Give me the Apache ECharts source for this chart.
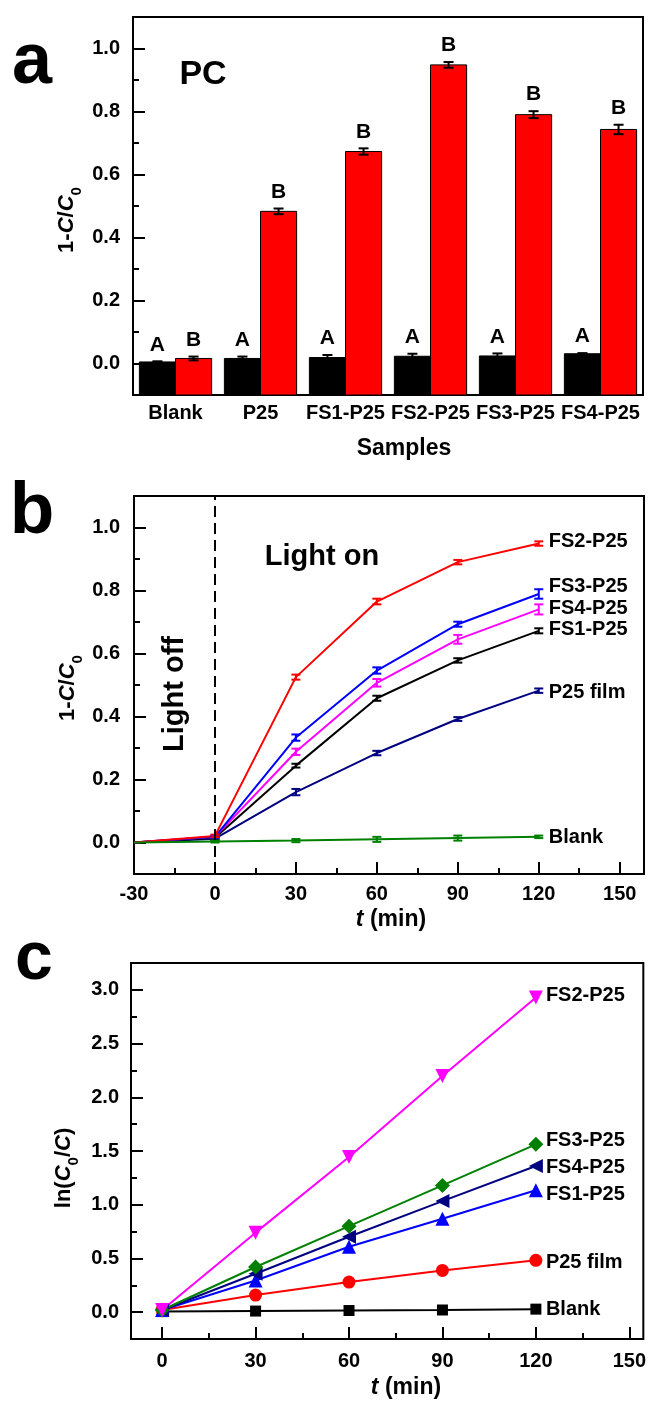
<!DOCTYPE html>
<html><head><meta charset="utf-8">
<script src="https://cdn.jsdelivr.net/npm/echarts@6/dist/echarts.min.js"></script>
<style>html,body{margin:0;padding:0;background:#fff}#c{width:649px;height:1405px}</style>
</head><body><div id="c"></div><script>
const FONT = '"Liberation Sans", Arial, Helvetica, sans-serif';

// ---------- Panel a data ----------
const samples = ['Blank', 'P25', 'FS1-P25', 'FS2-P25', 'FS3-P25', 'FS4-P25'];
const darkVals = [0.005, 0.016, 0.019, 0.023, 0.024, 0.031];
const darkErr = [0.002, 0.006, 0.008, 0.008, 0.008, 0.002];
const lightVals = [0.016, 0.483, 0.673, 0.948, 0.790, 0.743];
const lightErr = [0.006, 0.009, 0.010, 0.009, 0.011, 0.015];
const darkLetters = ['A', 'A', 'A', 'A', 'A', 'A'];
const lightLetters = ['B', 'B', 'B', 'B', 'B', 'B'];
const aYTicks = [0, 0.2, 0.4, 0.6, 0.8, 1.0];
const aYMinor = [0.1, 0.3, 0.5, 0.7, 0.9];

// ---------- Panel b data ----------
const tB = [-30, 0, 30, 60, 90, 120];
const bFS2 = [0, 0.021, 0.525, 0.765, 0.890, 0.949];
const bFS2err = [0, 0.004, 0.008, 0.009, 0.007, 0.007];
const bFS3 = [0, 0.018, 0.333, 0.546, 0.693, 0.789];
const bFS3err = [0, 0.004, 0.010, 0.010, 0.008, 0.015];
const bFS4 = [0, 0.018, 0.288, 0.507, 0.645, 0.740];
const bFS4err = [0, 0.004, 0.010, 0.012, 0.014, 0.016];
const bFS1 = [0, 0.015, 0.244, 0.458, 0.578, 0.672];
const bFS1err = [0, 0.004, 0.006, 0.008, 0.007, 0.008];
const bP25 = [0, 0.012, 0.160, 0.284, 0.392, 0.482];
const bP25err = [0, 0.004, 0.010, 0.007, 0.006, 0.007];
const bBlank = [0, 0.003, 0.006, 0.010, 0.014, 0.018];
const bBlankErr = [0, 0.003, 0.005, 0.008, 0.008, 0.004];
const bXTicks = [-30, 0, 30, 60, 90, 120, 150];
const bXMinor = [-15, 15, 45, 75, 105, 135];
const bYTicks = [0, 0.2, 0.4, 0.6, 0.8, 1.0];
const bYMinor = [0.1, 0.3, 0.5, 0.7, 0.9];

// ---------- Panel c data ----------
const tC = [0, 30, 60, 90, 120];
const cFS2 = [0.02, 0.740, 1.444, 2.199, 2.929];
const cFS3 = [0.02, 0.420, 0.800, 1.180, 1.562];
const cFS4 = [0.02, 0.357, 0.702, 1.034, 1.360];
const cFS1 = [0.02, 0.295, 0.609, 0.870, 1.134];
const cP25 = [0.02, 0.159, 0.280, 0.388, 0.482];
const cBlank = [0.005, 0.010, 0.015, 0.020, 0.028];
const cXTicks = [0, 30, 60, 90, 120, 150];
const cXMinor = [15, 45, 75, 105, 135];
const cYTicks = [0, 0.5, 1.0, 1.5, 2.0, 2.5, 3.0];
const cYMinor = [0.25, 0.75, 1.25, 1.75, 2.25, 2.75];

// ---------- helpers ----------
const A_YMIN = -0.1;
const labelBase = {color: '#000', fontFamily: FONT, fontWeight: 'bold', fontSize: 20};
function tickStyle(len, values) {
  return {show: true, inside: true, length: len, customValues: values, lineStyle: {color: '#000', width: 2}};
}
function valueAxes(grid, min, max, majors, minors, margin, pos, fmt) {
  const main = {type: 'value', gridIndex: grid, min: min, max: max, position: pos,
    axisLine: {show: false, onZero: false}, splitLine: {show: false},
    axisTick: tickStyle(12, majors),
    axisLabel: Object.assign({}, labelBase, {margin: margin, customValues: majors, formatter: fmt})};
  const minor = {type: 'value', gridIndex: grid, min: min, max: max, position: pos,
    axisLine: {show: false, onZero: false}, splitLine: {show: false},
    axisTick: tickStyle(6, minors),
    axisLabel: {show: false, customValues: minors}};
  return [main, minor];
}
const f1 = v => v.toFixed(1);
const f0 = v => String(Math.round(v));

function errorRender(color, capHalf, offsetFrac) {
  return function (params, api) {
    const x = api.value(0), y = api.value(1), e = api.value(2);
    if (!e) return null;
    const dx = offsetFrac ? api.size([1, 0])[0] * offsetFrac : 0;
    const hi = api.coord([x, y + e]), lo = api.coord([x, y - e]);
    const cx = hi[0] + dx;
    const st = {stroke: color, lineWidth: 2};
    return {type: 'group', children: [
      {type: 'line', shape: {x1: cx, y1: hi[1], x2: cx, y2: lo[1]}, style: st},
      {type: 'line', shape: {x1: cx - capHalf, y1: hi[1], x2: cx + capHalf, y2: hi[1]}, style: st},
      {type: 'line', shape: {x1: cx - capHalf, y1: lo[1], x2: cx + capHalf, y2: lo[1]}, style: st}
    ]};
  };
}
// bars drawn from the bottom of the axis (as in the original), via axis scale
function barRender(fill, offsetFrac, letters) {
  return function (params, api) {
    const i = api.value(0), v = api.value(1), e = api.value(2);
    const band = api.size([1, 0])[0];
    const w = band * 0.425;
    const top = api.coord([i, v]);
    const bot = api.coord([i, A_YMIN]);
    const cx = top[0] + band * offsetFrac;
    const lblY = api.coord([i, v + e])[1] - 6;
    return {type: 'group', children: [
      {type: 'rect', shape: {x: cx - w / 2, y: top[1], width: w, height: bot[1] - top[1]},
       style: {fill: fill, stroke: '#000', lineWidth: 1}},
      {type: 'text', x: cx, y: lblY, style: {text: letters[params.dataIndex], fill: '#000',
        fontFamily: FONT, fontWeight: 'bold', fontSize: 21, align: 'center', verticalAlign: 'bottom',
        textAlign: 'center', textVerticalAlign: 'bottom'}}
    ]};
  };
}
function zip3(xs, ys, es) { return xs.map((x, i) => [x, ys[i], es ? es[i] : 0]); }

// ---------- axes ----------
const aY = valueAxes(0, A_YMIN, 1.1, aYTicks, aYMinor, 13, 'left', f1);
const bX = valueAxes(1, -30, 159, bXTicks, bXMinor, 10, 'bottom', f0);
const bY = valueAxes(1, -0.1, 1.1, bYTicks, bYMinor, 14, 'left', f1);
const cX = valueAxes(2, -10, 154.5, cXTicks, cXMinor, 12, 'bottom', f0);
const cY = valueAxes(2, -0.25, 3.25, cYTicks, cYMinor, 12, 'left', f1);

const xAxes = [
  {type: 'category', gridIndex: 0, data: samples, axisLine: {show: false, onZero: false}, axisTick: {show: false},
   axisLabel: Object.assign({}, labelBase, {margin: 8, interval: 0})},
  bX[0], bX[1], cX[0], cX[1]
];
const yAxes = [aY[0], aY[1], bY[0], bY[1], cY[0], cY[1]];

// ---------- series ----------
const series = [];
series.push({type: 'custom', name: 'dark', xAxisIndex: 0, yAxisIndex: 0, z: 2,
  renderItem: barRender('#000000', -0.2125, darkLetters), encode: {x: 0, y: 1},
  data: samples.map((s, i) => [i, darkVals[i], darkErr[i]])});
series.push({type: 'custom', name: 'light', xAxisIndex: 0, yAxisIndex: 0, z: 2,
  renderItem: barRender('#ff0000', 0.2125, lightLetters), encode: {x: 0, y: 1},
  data: samples.map((s, i) => [i, lightVals[i], lightErr[i]])});
series.push({type: 'custom', xAxisIndex: 0, yAxisIndex: 0, z: 5,
  renderItem: errorRender('#000', 5, -0.2125), encode: {x: 0, y: 1},
  data: samples.map((s, i) => [i, darkVals[i], darkErr[i]])});
series.push({type: 'custom', xAxisIndex: 0, yAxisIndex: 0, z: 5,
  renderItem: errorRender('#000', 5, 0.2125), encode: {x: 0, y: 1},
  data: samples.map((s, i) => [i, lightVals[i], lightErr[i]])});

const endLabel = (dy) => ({show: true, formatter: '{a}', distance: 10, offset: [0, dy],
  color: '#000', fontFamily: FONT, fontWeight: 'bold', fontSize: 20});

const bDefs = [
  {name: 'P25 film', y: bP25, e: bP25err, color: '#000080', dy: 2},
  {name: 'FS1-P25', y: bFS1, e: bFS1err, color: '#000000', dy: -1},
  {name: 'FS4-P25', y: bFS4, e: bFS4err, color: '#ff00ff', dy: -1},
  {name: 'FS3-P25', y: bFS3, e: bFS3err, color: '#0000ff', dy: -7},
  {name: 'FS2-P25', y: bFS2, e: bFS2err, color: '#ff0000', dy: -2},
  {name: 'Blank', y: bBlank, e: bBlankErr, color: '#008000', dy: 1}
];
bDefs.forEach((d, k) => {
  const s = {type: 'line', name: d.name, xAxisIndex: 1, yAxisIndex: 2,
    data: tB.map((t, i) => [t, d.y[i]]), showSymbol: false, symbol: 'none',
    lineStyle: {color: d.color, width: 2}, itemStyle: {color: d.color},
    endLabel: endLabel(d.dy), z: 3};
  if (d.name === 'Blank') {
    s.markLine = {symbol: 'none', silent: true, label: {show: false},
      lineStyle: {type: [11, 6], color: '#000', width: 2}, data: [{xAxis: 0}]};
  }
  series.push(s);
  series.push({type: 'custom', xAxisIndex: 1, yAxisIndex: 2, z: 4,
    renderItem: errorRender(d.color, 4.5, 0), encode: {x: 0, y: 1}, data: zip3(tB, d.y, d.e)});
});

const cDefs = [
  {name: 'Blank', y: cBlank, color: '#000000', symbol: 'rect', rot: 0, size: 11, dy: 0},
  {name: 'P25 film', y: cP25, color: '#ff0000', symbol: 'circle', rot: 0, size: 13, dy: 2},
  {name: 'FS1-P25', y: cFS1, color: '#0000ff', symbol: 'triangle', rot: 0, size: 14, dy: 4},
  {name: 'FS4-P25', y: cFS4, color: '#000080', symbol: 'triangle', rot: 90, size: 14, dy: 1},
  {name: 'FS3-P25', y: cFS3, color: '#008000', symbol: 'diamond', rot: 0, size: 15, dy: -4},
  {name: 'FS2-P25', y: cFS2, color: '#ff00ff', symbol: 'triangle', rot: 180, size: 14, dy: -2}
];
cDefs.forEach(d => {
  series.push({type: 'line', name: d.name, xAxisIndex: 3, yAxisIndex: 4,
    data: tC.map((t, i) => [t, d.y[i]]), symbol: d.symbol, symbolRotate: d.rot, symbolSize: d.size,
    showSymbol: true, lineStyle: {color: d.color, width: 2}, itemStyle: {color: d.color},
    endLabel: endLabel(d.dy), z: 3});
});

// ---------- texts ----------
function txt(x, y, text, size, opts) {
  opts = opts || {};
  const align = opts.align || 'center';
  const style = {text: text, fill: '#000', fontSize: size, fontWeight: 'bold', fontFamily: FONT,
    align: align, verticalAlign: 'middle', textAlign: align, textVerticalAlign: 'middle'};
  if (opts.rich) style.rich = opts.rich;
  return {type: 'text', x: x, y: y, rotation: opts.rot || 0, z: 100, silent: true, style: style};
}
function richSet(main, sub, pad) {
  const b = {fontFamily: FONT, fontWeight: 'bold', fill: '#000', color: '#000'};
  return {
    n: Object.assign({}, b, {fontSize: main, lineHeight: main}),
    i: Object.assign({}, b, {fontSize: main, lineHeight: main, fontStyle: 'italic'}),
    s: Object.assign({}, b, {fontSize: sub, lineHeight: sub, padding: [pad, 0, 0, 0]})
  };
}
const R = Math.PI / 2;
const graphics = [
  txt(32, 63, 'a', 72),
  txt(203, 75, 'PC', 34),
  txt(66.7, 220, '{n|1-}{i|C}{n|/}{i|C}{s|0}', 22, {rot: R, rich: richSet(22, 15, 20)}),
  txt(404, 449, 'Samples', 23),
  txt(32, 513, 'b', 73),
  txt(322, 557, 'Light on', 29),
  txt(175, 694, 'Light off', 29, {rot: R}),
  txt(67.5, 688, '{n|1-}{i|C}{n|/}{i|C}{s|0}', 22, {rot: R, rich: richSet(22, 15, 20)}),
  txt(391, 920, '{i|t}{n| (min)}', 23, {rich: richSet(23, 15, 0)}),
  txt(34, 960, 'c', 68),
  txt(64, 1168, '{n|ln(}{i|C}{s|0}{n|/}{i|C}{n|)}', 22, {rot: R, rich: richSet(22, 15, 20)}),
  txt(406, 1388, '{i|t}{n| (min)}', 23, {rich: richSet(23, 15, 0)})
];

const gridBase = {show: true, borderColor: '#000', borderWidth: 2, backgroundColor: 'transparent', containLabel: false};
const option = {
  animation: false,
  backgroundColor: '#fff',
  grid: [
    Object.assign({left: 133, top: 17, width: 510, height: 378}, gridBase),
    Object.assign({left: 134, top: 496, width: 510, height: 378}, gridBase),
    Object.assign({left: 131, top: 963, width: 513, height: 376}, gridBase)
  ],
  xAxis: xAxes,
  yAxis: yAxes,
  series: series,
  graphic: graphics
};
const chart = echarts.init(document.getElementById('c'));
chart.setOption(option);
</script></body></html>
